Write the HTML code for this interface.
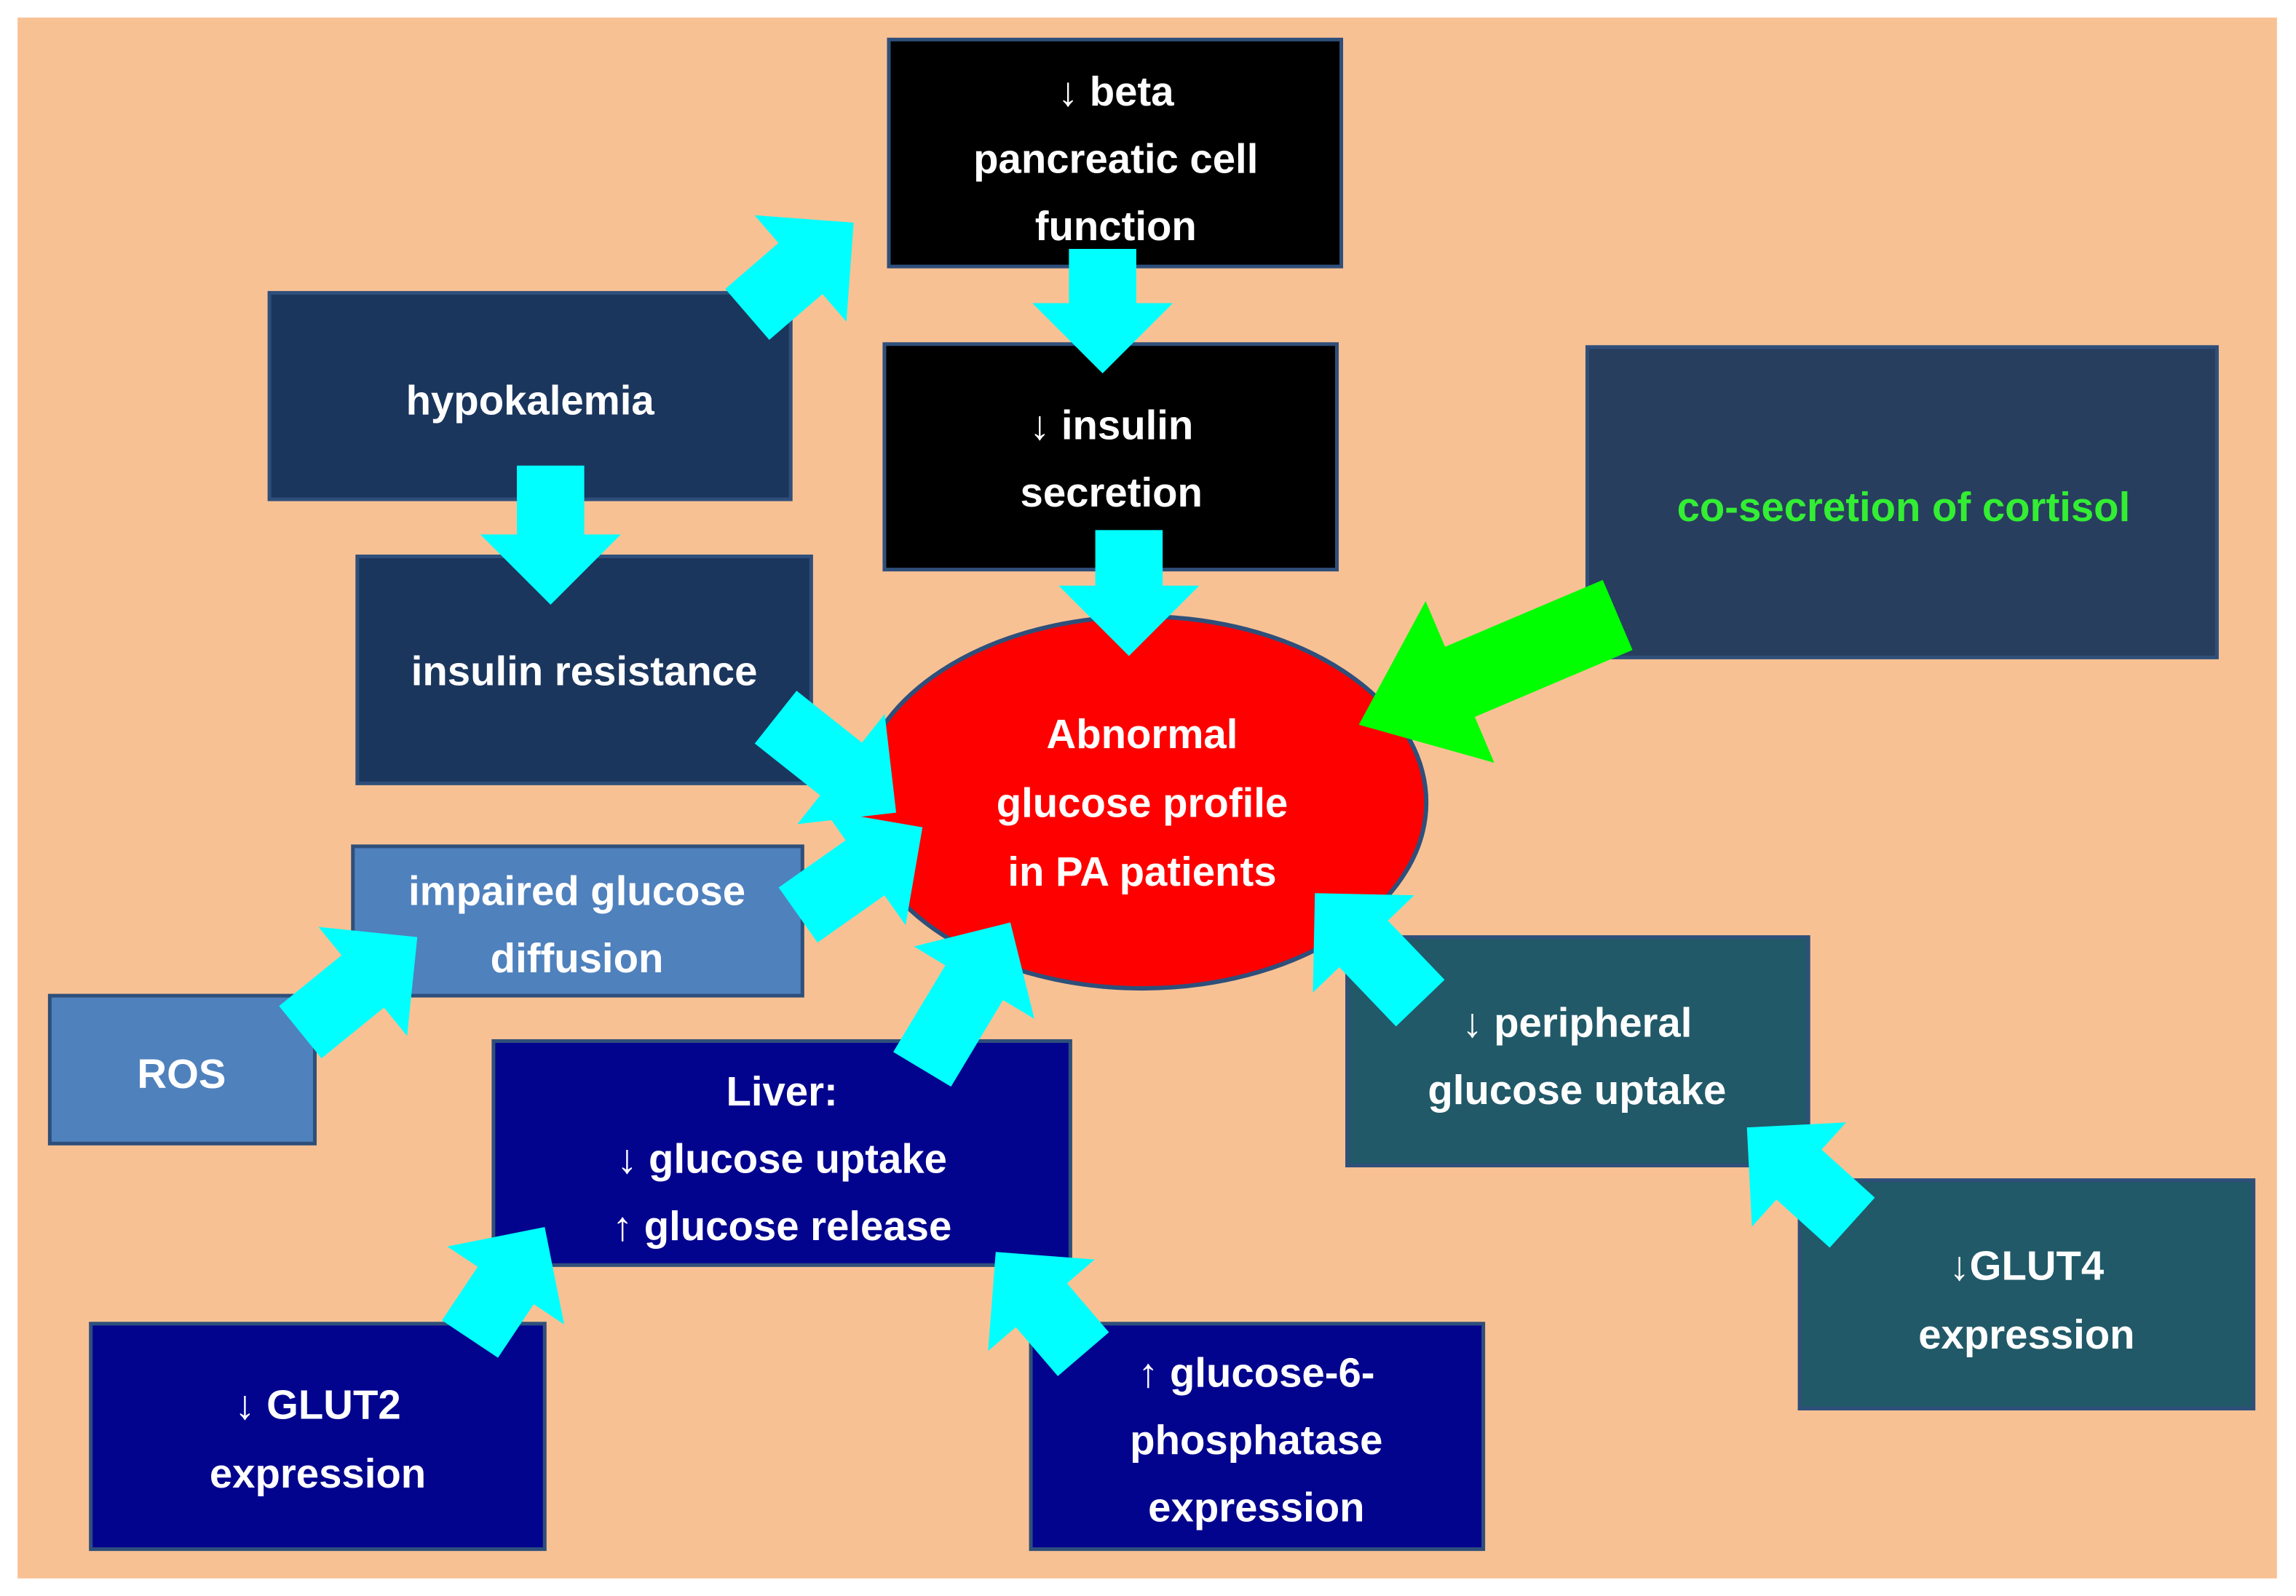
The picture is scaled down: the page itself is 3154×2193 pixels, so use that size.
<!DOCTYPE html>
<html><head><meta charset="utf-8"><style>html,body{margin:0;padding:0;background:#fff}svg{display:block}</style></head>
<body>
<svg width="3154" height="2193" viewBox="0 0 1568 1090" preserveAspectRatio="none" xmlns="http://www.w3.org/2000/svg">
<rect x="0" y="0" width="1568" height="1090" fill="#fff"/>
<rect x="12" y="12" width="1543" height="1066" fill="#F8C194"/>
<g stroke="#2F4F7A" stroke-width="2.5">
<rect x="607" y="27" width="309" height="155" fill="#000"/>
<rect x="604" y="235" width="309" height="154" fill="#000"/>
<rect x="184" y="200" width="356" height="141" fill="#1B365D"/>
<rect x="244" y="380" width="310" height="155" fill="#1B365D"/>
<rect x="1084" y="237" width="430" height="212" fill="#283E5E"/>
<rect x="241" y="578" width="307" height="102" fill="#4F81BD"/>
<rect x="34" y="680" width="181" height="101" fill="#4F81BD"/>
<rect x="337" y="711" width="394" height="153" fill="#03048E"/>
<rect x="920" y="640" width="315" height="156" fill="#215968"/>
<rect x="1229" y="806" width="310" height="156" fill="#215968"/>
<rect x="62" y="904" width="310" height="154" fill="#03048E"/>
<rect x="704" y="904" width="309" height="154" fill="#03048E"/>
</g>
<ellipse cx="780" cy="548" rx="194" ry="127" fill="#FF0000" stroke="#2F4F7A" stroke-width="3"/>
<g fill="#00FFFF">
<path transform="translate(583,152) rotate(-40.8)" d="M-96,-23 L-48,-23 L-48,-48 L0,0 L-48,48 L-48,23 L-96,23 Z"/>
<path transform="translate(753,255) rotate(90)" d="M-85,-23 L-48,-23 L-48,-48 L0,0 L-48,48 L-48,23 L-85,23 Z"/>
<path transform="translate(376,413) rotate(90)" d="M-95,-23 L-48,-23 L-48,-48 L0,0 L-48,48 L-48,23 L-95,23 Z"/>
<path transform="translate(771,448) rotate(90)" d="M-86,-23 L-48,-23 L-48,-48 L0,0 L-48,48 L-48,23 L-86,23 Z"/>
<path transform="translate(612,555) rotate(38.4)" d="M-105,-23 L-48,-23 L-48,-48 L0,0 L-48,48 L-48,23 L-105,23 Z"/>
<path transform="translate(630,565) rotate(-35.2)" d="M-104,-23 L-48,-23 L-48,-48 L0,0 L-48,48 L-48,23 L-104,23 Z"/>
<path transform="translate(285,640) rotate(-39.1)" d="M-103,-23 L-48,-23 L-48,-48 L0,0 L-48,48 L-48,23 L-103,23 Z"/>
<path transform="translate(690,630) rotate(-59)" d="M-117,-23 L-48,-23 L-48,-48 L0,0 L-48,48 L-48,23 L-117,23 Z"/>
<path transform="translate(898,610) rotate(-133.8)" d="M-104,-23 L-48,-23 L-48,-48 L0,0 L-48,48 L-48,23 L-104,23 Z"/>
<path transform="translate(1193,770) rotate(-137.9)" d="M-97,-23 L-48,-23 L-48,-48 L0,0 L-48,48 L-48,23 L-97,23 Z"/>
<path transform="translate(372,838) rotate(-56.3)" d="M-92,-23 L-48,-23 L-48,-48 L0,0 L-48,48 L-48,23 L-92,23 Z"/>
<path transform="translate(680,855) rotate(-130.6)" d="M-92,-23 L-48,-23 L-48,-48 L0,0 L-48,48 L-48,23 L-92,23 Z"/>
</g>
<path fill="#00FF00" transform="translate(928,495) rotate(157)" d="M-192,-26 L-75,-26 L-75,-60 L0,0 L-75,60 L-75,26 L-192,26 Z"/>
<g font-family="Liberation Sans, sans-serif" font-weight="bold" font-size="28" fill="#fff" text-anchor="middle">
<text x="762" y="72">↓ beta</text>
<text x="762" y="118">pancreatic cell</text>
<text x="762" y="164">function</text>
<text x="759" y="300">↓ insulin</text>
<text x="759" y="346">secretion</text>
<text x="362" y="283">hypokalemia</text>
<text x="399" y="468">insulin resistance</text>
<text x="1300" y="356" fill="#33EE33">co-secretion of cortisol</text>
<text x="780" y="511">Abnormal</text>
<text x="780" y="558">glucose profile</text>
<text x="780" y="605">in PA patients</text>
<text x="394" y="618">impaired glucose</text>
<text x="394" y="664">diffusion</text>
<text x="124" y="743">ROS</text>
<text x="534" y="755">Liver:</text>
<text x="534" y="801">↓ glucose uptake</text>
<text x="534" y="847">↑ glucose release</text>
<text x="1077" y="708">↓ peripheral</text>
<text x="1077" y="754">glucose uptake</text>
<text x="1384" y="874">↓GLUT4</text>
<text x="1384" y="921">expression</text>
<text x="217" y="969">↓ GLUT2</text>
<text x="217" y="1016">expression</text>
<text x="858" y="947">↑ glucose-6-</text>
<text x="858" y="993">phosphatase</text>
<text x="858" y="1039">expression</text>
</g>
</svg>
</body></html>
